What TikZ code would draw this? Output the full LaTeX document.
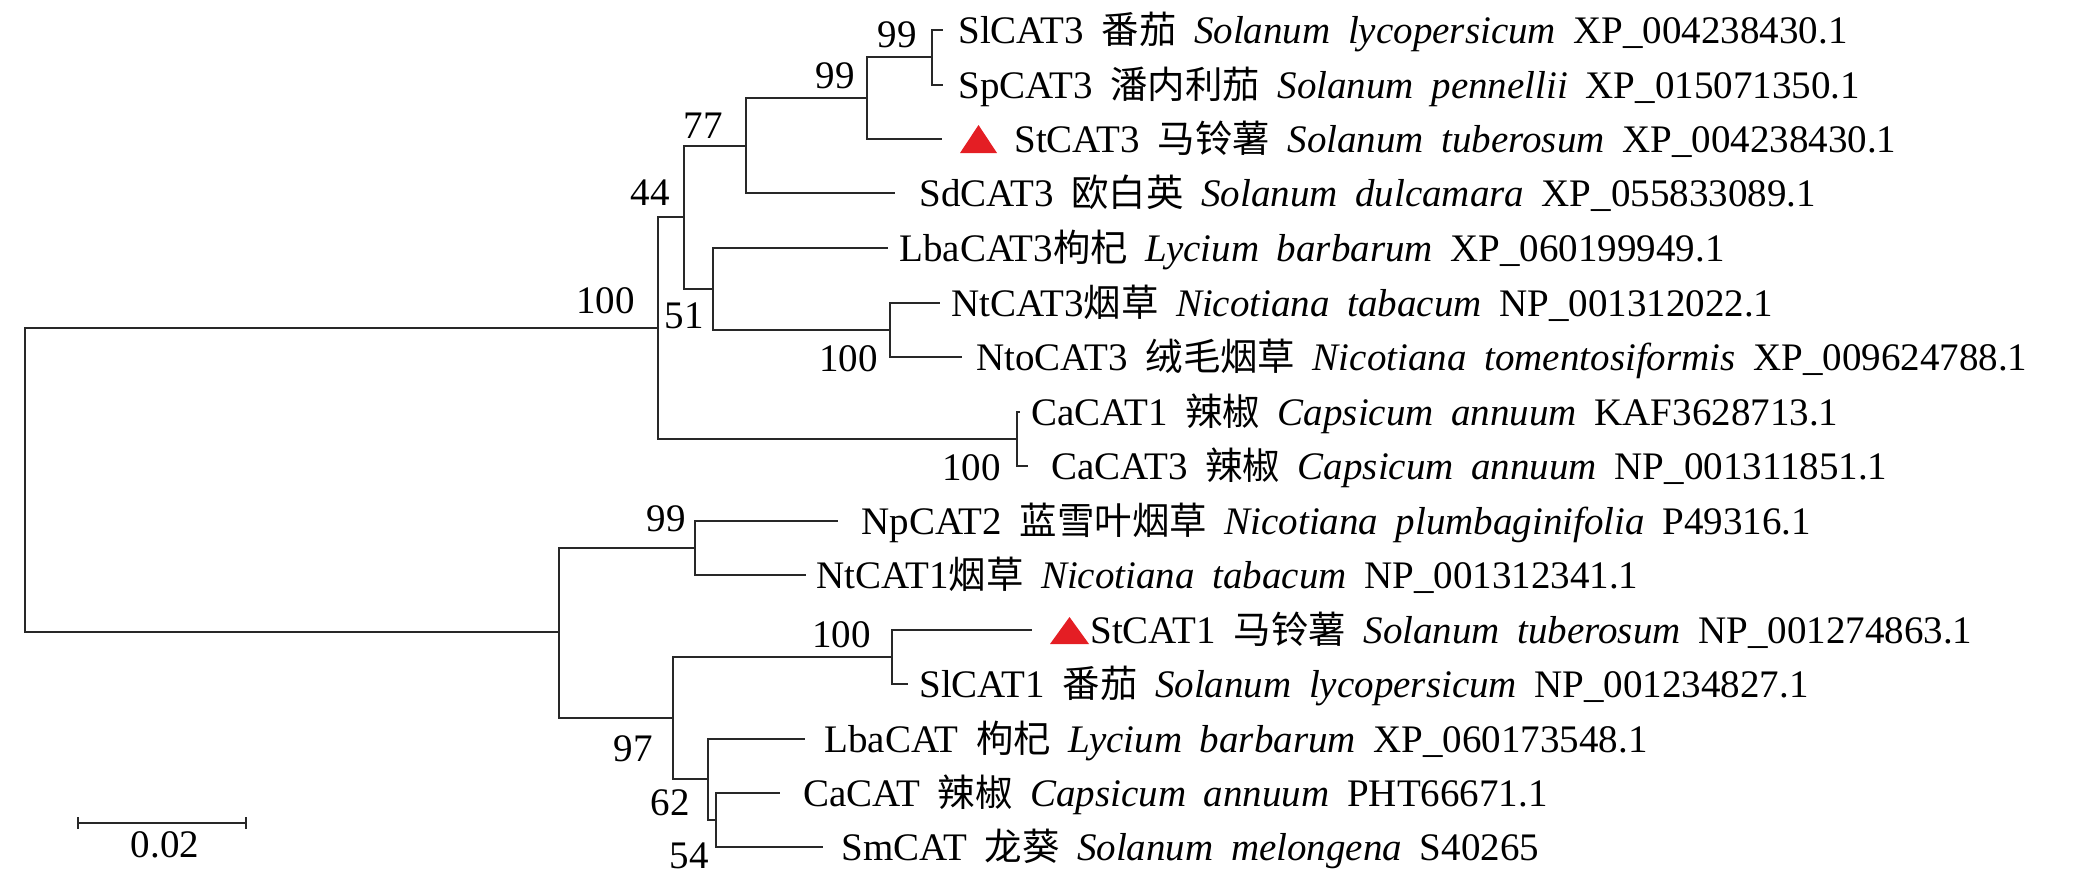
\documentclass[tikz,border=0pt]{standalone}
\usepackage{fontspec}
\setmainfont{Liberation Serif}[WordSpace=1.8]
\newfontfamily\cjk{Noto Sans CJK SC}[Scale=0.96]
\definecolor{trired}{RGB}{228,30,36}
\definecolor{treeline}{RGB}{40,40,40}
\begin{document}
\begin{tikzpicture}[x=0.5pt,y=-0.5pt,line width=1.4pt,
    font=\fontsize{19.5}{22}\selectfont,
    leaf/.style={anchor=base west,inner sep=0pt},
    boot/.style={anchor=base east,inner sep=0pt}]
  \useasboundingbox (0,0) rectangle (2096,878);
  \path
    (25,480) coordinate (root)
    (658,328) coordinate (nU)
    (684,217) coordinate (nA)
    (746,146) coordinate (nB)
    (867,98) coordinate (nC)
    (932,57) coordinate (nD)
    (713,289) coordinate (nE)
    (890,330) coordinate (nF)
    (1017,439) coordinate (nG)
    (559,632) coordinate (nL)
    (695,548) coordinate (nH)
    (673,718) coordinate (nI)
    (892,657) coordinate (nJ)
    (708,779) coordinate (nK)
    (716,820) coordinate (nM);
  \path
    (943,30) coordinate (e1)
    (943,85) coordinate (e2)
    (942,139) coordinate (e3)
    (895,193) coordinate (e4)
    (888,248) coordinate (e5)
    (940,303) coordinate (e6)
    (962,357) coordinate (e7)
    (1020,412) coordinate (e8)
    (1028,466) coordinate (e9)
    (838,521) coordinate (e10)
    (806,575) coordinate (e11)
    (1032,630) coordinate (e12)
    (908,684) coordinate (e13)
    (805,739) coordinate (e14)
    (780,793) coordinate (e15)
    (823,847) coordinate (e16);
  \path
    (957,43) node[leaf] (SlCAT3) {SlCAT3 {\cjk 番茄} \textit{Solanum lycopersicum} XP\_004238430.1}
    (957,98) node[leaf] (SpCAT3) {SpCAT3 {\cjk 潘内利茄} \textit{Solanum pennellii} XP\_015071350.1}
    (1013,152) node[leaf] (StCAT3) {StCAT3 {\cjk 马铃薯} \textit{Solanum tuberosum} XP\_004238430.1}
    (918,206) node[leaf] (SdCAT3) {SdCAT3 {\cjk 欧白英} \textit{Solanum dulcamara} XP\_055833089.1}
    (898,261) node[leaf] (LbaCAT3) {LbaCAT3{\cjk 枸杞} \textit{Lycium barbarum} XP\_060199949.1}
    (950,316) node[leaf] (NtCAT3) {NtCAT3{\cjk 烟草} \textit{Nicotiana tabacum} NP\_001312022.1}
    (975,370) node[leaf] (NtoCAT3) {NtoCAT3 {\cjk 绒毛烟草} \textit{Nicotiana tomentosiformis} XP\_009624788.1}
    (1030,425) node[leaf] (CaCAT1) {CaCAT1 {\cjk 辣椒} \textit{Capsicum annuum} KAF3628713.1}
    (1050,479) node[leaf] (CaCAT3) {CaCAT3 {\cjk 辣椒} \textit{Capsicum annuum} NP\_001311851.1}
    (860,534) node[leaf] (NpCAT2) {NpCAT2 {\cjk 蓝雪叶烟草} \textit{Nicotiana plumbaginifolia} P49316.1}
    (815,588) node[leaf] (NtCAT1) {NtCAT1{\cjk 烟草} \textit{Nicotiana tabacum} NP\_001312341.1}
    (1089,643) node[leaf] (StCAT1) {StCAT1 {\cjk 马铃薯} \textit{Solanum tuberosum} NP\_001274863.1}
    (918,697) node[leaf] (SlCAT1) {SlCAT1 {\cjk 番茄} \textit{Solanum lycopersicum} NP\_001234827.1}
    (823,752) node[leaf] (LbaCAT) {LbaCAT {\cjk 枸杞} \textit{Lycium barbarum} XP\_060173548.1}
    (802,806) node[leaf] (CaCAT) {CaCAT {\cjk 辣椒} \textit{Capsicum annuum} PHT66671.1}
    (840,860) node[leaf] (SmCAT) {SmCAT {\cjk 龙葵} \textit{Solanum melongena} S40265};
  \path
    (636,313) node[boot] (bU) {100}
    (671,205) node[boot] (bA) {44}
    (724,138) node[boot] (bB) {77}
    (856,88) node[boot] (bC) {99}
    (918,47) node[boot] (bD) {99}
    (705,328) node[boot] (bE) {51}
    (879,371) node[boot] (bF) {100}
    (1002,480) node[boot] (bG) {100}
    (687,531) node[boot] (bH) {99}
    (654,761) node[boot] (bI) {97}
    (872,647) node[boot] (bJ) {100}
    (691,815) node[boot] (bK) {62}
    (710,868) node[boot] (bM) {54};
  \begin{scope}[draw=treeline]
    \draw (root) |- (nU);
    \draw (root) |- (nL);
    \draw (nU) |- (nA);
    \draw (nU) |- (nG);
    \draw (nA) |- (nB);
    \draw (nA) |- (nE);
    \draw (nB) |- (nC);
    \draw (nB) |- (e4);
    \draw (nC) |- (nD);
    \draw (nC) |- (e3);
    \draw (nD) |- (e1);
    \draw (nD) |- (e2);
    \draw (nE) |- (e5);
    \draw (nE) |- (nF);
    \draw (nF) |- (e6);
    \draw (nF) |- (e7);
    \draw (nG) |- (e8);
    \draw (nG) |- (e9);
    \draw (nL) |- (nH);
    \draw (nL) |- (nI);
    \draw (nH) |- (e10);
    \draw (nH) |- (e11);
    \draw (nI) |- (nJ);
    \draw (nI) |- (nK);
    \draw (nJ) |- (e12);
    \draw (nJ) |- (e13);
    \draw (nK) |- (e14);
    \draw (nK) |- (nM);
    \draw (nM) |- (e15);
    \draw (nM) |- (e16);
  \end{scope}
  \fill[trired] (960,153) -- (978.5,125) -- (997,153) -- cycle;
  \fill[trired] (1050,644) -- (1069.5,617) -- (1089,644) -- cycle;
  \coordinate (barL) at (78,823);
  \coordinate (barR) at (246,823);
  \draw[treeline] (barL) -- (barR);
  \draw[treeline] ([yshift=-3pt]barL) -- ([yshift=3pt]barL);
  \draw[treeline] ([yshift=-3pt]barR) -- ([yshift=3pt]barR);
  \node[anchor=base,inner sep=0pt] (barlabel) at (165,857) {0.02};
\end{tikzpicture}
\end{document}
